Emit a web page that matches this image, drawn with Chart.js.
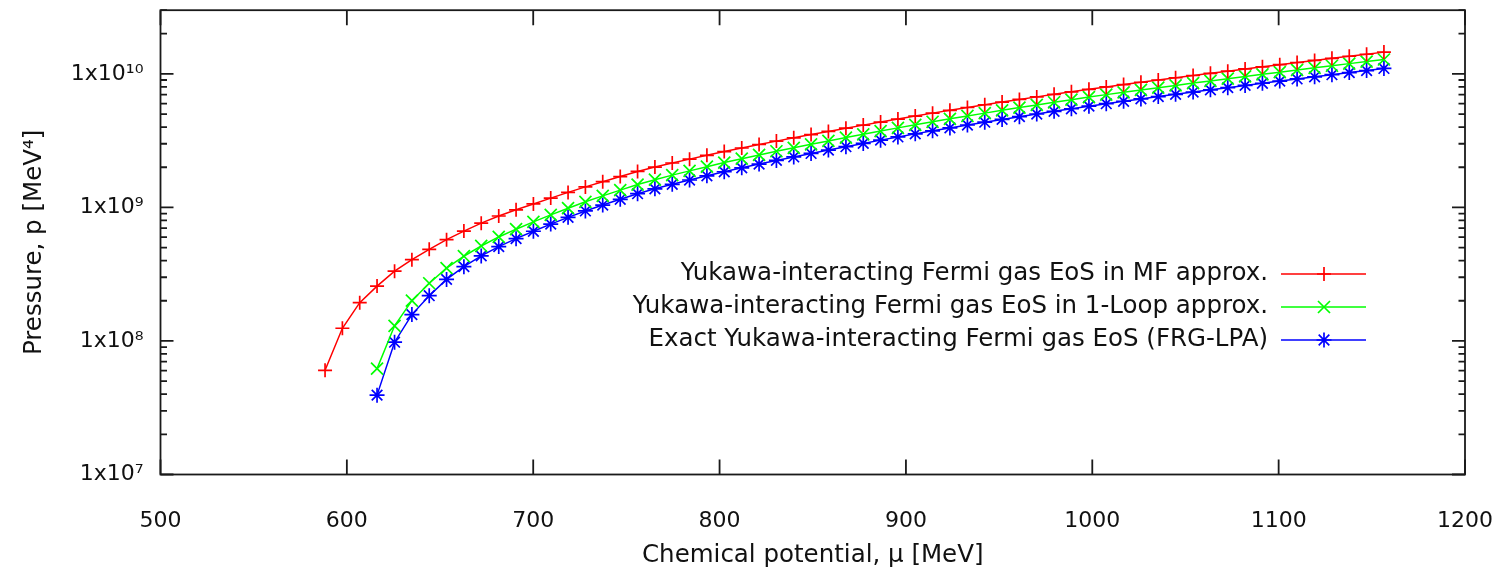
<!DOCTYPE html>
<html><head><meta charset="utf-8">
<script src="https://cdn.jsdelivr.net/npm/chart.js@4/dist/chart.umd.min.js"></script>
<style>html,body{margin:0;padding:0;background:#fff;}canvas{display:block;}</style>
</head><body>
<canvas id="c" width="1509" height="578"></canvas>
<script>
const muMF = [588.3,597.6,606.9,616.2,625.6,634.9,644.2,653.5,662.8,672.1,681.5,690.8,700.1,709.4,718.7,728.0,737.3,746.7,756.0,765.3,774.6,783.9,793.2,802.5,811.9,821.2,830.5,839.8,849.1,858.4,867.8,877.1,886.4,895.7,905.0,914.3,923.6,933.0,942.3,951.6,960.9,970.2,979.5,988.8,998.2,1007.5,1016.8,1026.1,1035.4,1044.7,1054.1,1063.4,1072.7,1082.0,1091.3,1100.6,1109.9,1119.3,1128.6,1137.9,1147.2,1156.5];
const muCorr = [616.2,625.6,634.9,644.2,653.5,662.8,672.1,681.5,690.8,700.1,709.4,718.7,728.0,737.3,746.7,756.0,765.3,774.6,783.9,793.2,802.5,811.9,821.2,830.5,839.8,849.1,858.4,867.8,877.1,886.4,895.7,905.0,914.3,923.6,933.0,942.3,951.6,960.9,970.2,979.5,988.8,998.2,1007.5,1016.8,1026.1,1035.4,1044.7,1054.1,1063.4,1072.7,1082.0,1091.3,1100.6,1109.9,1119.3,1128.6,1137.9,1147.2,1156.5];
const pMF = [6.03e7,1.245e8,1.935e8,2.576e8,3.332e8,4.066e8,4.86e8,5.74e8,6.65e8,7.63e8,8.63e8,9.60e8,1.062e9,1.175e9,1.296e9,1.425e9,1.559e9,1.704e9,1.860e9,2.006e9,2.151e9,2.300e9,2.456e9,2.621e9,2.788e9,2.960e9,3.138e9,3.320e9,3.513e9,3.711e9,3.921e9,4.135e9,4.361e9,4.592e9,4.834e9,5.085e9,5.340e9,5.602e9,5.873e9,6.151e9,6.436e9,6.730e9,7.031e9,7.339e9,7.661e9,7.990e9,8.325e9,8.660e9,9.006e9,9.36e9,9.73e9,1.010e10,1.049e10,1.090e10,1.130e10,1.173e10,1.217e10,1.262e10,1.308e10,1.356e10,1.404e10,1.456e10];
const p1Loop = [6.21e7,1.299e8,2.004e8,2.705e8,3.509e8,4.311e8,5.146e8,6.011e8,6.873e8,7.790e8,8.796e8,9.871e8,1.102e9,1.220e9,1.348e9,1.484e9,1.614e9,1.746e9,1.879e9,2.020e9,2.167e9,2.317e9,2.473e9,2.635e9,2.797e9,2.971e9,3.147e9,3.338e9,3.526e9,3.731e9,3.943e9,4.157e9,4.381e9,4.608e9,4.842e9,5.085e9,5.334e9,5.593e9,5.858e9,6.131e9,6.410e9,6.703e9,6.997e9,7.282e9,7.583e9,7.892e9,8.205e9,8.533e9,8.865e9,9.208e9,9.570e9,9.928e9,1.031e10,1.070e10,1.110e10,1.151e10,1.194e10,1.237e10,1.282e10];
const pFRG = [3.93e7,9.79e7,1.576e8,2.183e8,2.891e8,3.601e8,4.335e8,5.09e8,5.84e8,6.63e8,7.50e8,8.43e8,9.41e8,1.042e9,1.151e9,1.267e9,1.378e9,1.491e9,1.605e9,1.725e9,1.851e9,1.979e9,2.112e9,2.250e9,2.389e9,2.537e9,2.688e9,2.851e9,3.016e9,3.192e9,3.373e9,3.556e9,3.748e9,3.942e9,4.142e9,4.350e9,4.563e9,4.784e9,5.011e9,5.245e9,5.483e9,5.734e9,5.985e9,6.241e9,6.499e9,6.764e9,7.032e9,7.313e9,7.598e9,7.892e9,8.202e9,8.509e9,8.835e9,9.170e9,9.514e9,9.865e9,1.023e10,1.060e10,1.099e10];
const seriesLabels = ['Yukawa-interacting Fermi gas EoS in MF approx.','Yukawa-interacting Fermi gas EoS in 1-Loop approx.','Exact Yukawa-interacting Fermi gas EoS (FRG-LPA)'];
const xTicks = [500,600,700,800,900,1000,1100,1200];
const yTicks = [1e7,1e8,1e9,1e10];
const yTickLabels = ['1x10\u2077','1x10\u2078','1x10\u2079','1x10\u00b9\u2070'];
const xTitle = 'Chemical potential, \u03bc [MeV]';
const yTitle = 'Pressure, p [MeV\u2074]';

const FAM = "'DejaVu Sans',sans-serif";
const FS_TICK = 22;
const FS_TEXT = 24.5;
const TXT = '#111';
const pts = (xs, ys) => xs.map((x, i) => ({x, y: ys[i]}));

function mkSet(label, xs, ys, color, style, r) {
  return {label, data: pts(xs, ys), borderColor: color, backgroundColor: color,
    borderWidth: 1.5, pointStyle: style, pointRadius: r, pointBorderWidth: 1.7,
    pointBorderColor: color, tension: 0, fill: false};
}

const frame = {
  id: 'frame',
  afterDatasetsDraw(chart) {
    const {ctx, chartArea: a, scales: {x, y}} = chart;
    ctx.save();
    ctx.strokeStyle = '#1a1a1a';
    ctx.lineWidth = 1.8;
    ctx.beginPath();
    xTicks.forEach(v => {
      const px = x.getPixelForValue(v);
      ctx.moveTo(px, a.bottom); ctx.lineTo(px, a.bottom - 15);
      ctx.moveTo(px, a.top); ctx.lineTo(px, a.top + 15);
    });
    for (let e = 7; e <= 10; e++) {
      for (let m = 1; m <= 9; m++) {
        const v = m * Math.pow(10, e);
        if (v > y.max) break;
        const py = y.getPixelForValue(v);
        const len = m === 1 ? 13 : 6.5;
        ctx.moveTo(a.left, py); ctx.lineTo(a.left + len, py);
        ctx.moveTo(a.right, py); ctx.lineTo(a.right - len, py);
      }
    }
    ctx.stroke();
    ctx.strokeRect(a.left, a.top, a.right - a.left, a.bottom - a.top);
    // legend
    ctx.font = FS_TEXT + "px " + FAM;
    ctx.textAlign = 'right';
    ctx.textBaseline = 'middle';
    chart.data.datasets.forEach((ds, i) => {
      const ly = 274 + 33 * i;
      ctx.fillStyle = TXT;
      ctx.fillText(ds.label, 1268, ly);
      ctx.strokeStyle = ds.borderColor;
      ctx.lineWidth = 1.5;
      ctx.beginPath(); ctx.moveTo(1281, ly); ctx.lineTo(1366, ly); ctx.stroke();
      ctx.lineWidth = 1.7;
      Chart.helpers.drawPoint(ctx, {pointStyle: ds.pointStyle, radius: ds.pointRadius, borderWidth: 1.7, rotation: 0}, 1324, ly);
    });
    ctx.restore();
  }
};

new Chart(document.getElementById('c'), {
  type: 'line',
  data: {datasets: [
    mkSet(seriesLabels[0], muMF, pMF, '#ff0000', 'cross', 7),
    mkSet(seriesLabels[1], muCorr, p1Loop, '#00ff00', 'crossRot', 8.5),
    mkSet(seriesLabels[2], muCorr, pFRG, '#0000ff', 'star', 7.5)
  ]},
  options: {
    responsive: false, animation: false,
    layout: {padding: {top: 7, right: 44, left: 0, bottom: 0}},
    plugins: {legend: {display: false}, tooltip: {enabled: false}},
    scales: {
      x: {type: 'linear', min: 500, max: 1200,
        afterBuildTicks: s => { s.ticks = xTicks.map(v => ({value: v})); },
        afterFit: s => { s.height = 103.5; s.paddingLeft = 0; s.paddingRight = 0; },
        grid: {display: false, drawTicks: false}, border: {display: false},
        ticks: {font: {family: FAM, size: FS_TICK}, color: TXT, padding: 34, maxRotation: 0, autoSkip: false, callback: v => String(v)},
        title: {display: true, text: xTitle, font: {family: FAM, size: FS_TEXT}, color: TXT, padding: {top: 0, bottom: 8}}
      },
      y: {type: 'logarithmic', min: 1e7, max: 3e10,
        afterBuildTicks: s => { s.ticks = yTicks.map(v => ({value: v})); },
        afterFit: s => { s.width = 160.5; s.paddingTop = 0; s.paddingBottom = 0; },
        grid: {display: false, drawTicks: false}, border: {display: false},
        ticks: {font: {family: FAM, size: FS_TICK}, color: TXT, padding: 17, autoSkip: false,
          callback: (v) => { const i = yTicks.indexOf(v); return i >= 0 ? yTickLabels[i] : ''; }},
        title: {display: true, text: yTitle, font: {family: FAM, size: FS_TEXT}, color: TXT, padding: {top: 20, bottom: 0}}
      }
    }
  },
  plugins: [frame]
});
</script>
</body></html>
